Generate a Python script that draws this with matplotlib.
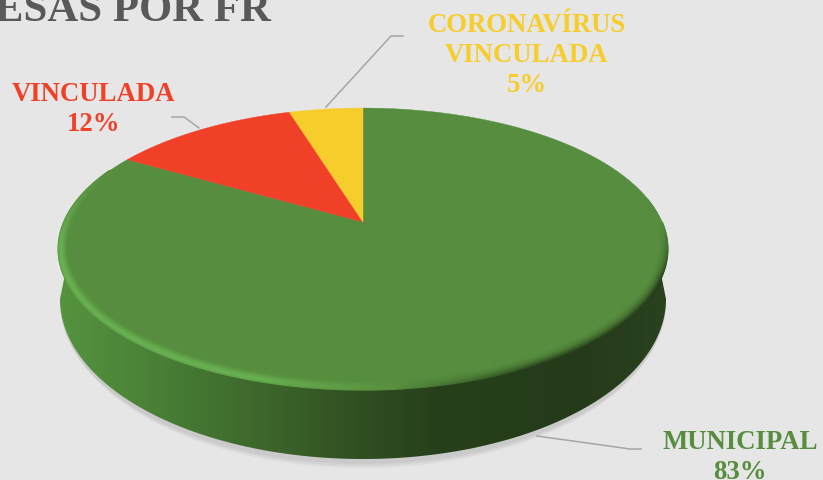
import numpy as np
import matplotlib
matplotlib.use('Agg')
import matplotlib.pyplot as plt
from matplotlib.collections import LineCollection
from matplotlib.colors import LinearSegmentedColormap, to_rgb
from matplotlib.patches import Polygon

plt.rcParams['font.family'] = ['Liberation Serif', 'DejaVu Serif']

# chart data
categories = ['MUNICIPAL', 'VINCULADA', 'CORONAVÍRUS\nVINCULADA']
values = [83.4, 11.9, 4.7]
colors = ['#568d3e', '#f04128', '#f6cd2b']
title = 'ESAS POR FR'

BG = '#e6e6e6'
CX, CY = 363.0, 223.0      # apex of the pie
A, B, P = 299.0, 135.7, -0.191   # perspective of the disc


def project(theta, r=1.0):
    # theta is clockwise from 12 o'clock, disc is tilted towards the viewer
    u = r * np.sin(theta)
    v = -r * np.cos(theta)
    d = 1 + P * v
    return CX + A * u / d, CY + B * v / d


def ell(t, cx, cy, a, b):
    return cx + a * np.cos(t), cy + b * np.sin(t)


fig = plt.figure(figsize=(8.23, 4.81), dpi=100, facecolor=BG)
ax = fig.add_axes([0, 0, 1, 1])
ax.set_xlim(0, 823)
ax.set_ylim(481, 0)
ax.axis('off')

# soft shadow under the disc, lower half only
t = np.linspace(0, np.pi, 300)
for grow, alpha in [(7, 0.25), (5, 0.4), (3, 0.6)]:
    sx, sy = ell(t, 363, 302, 303, 160 + grow)
    ax.fill(sx, sy, color='#c4c4c4', alpha=alpha, lw=0, zorder=1)

# side wall with horizontal shading
th = np.linspace(np.pi / 2 - 0.2, 3 * np.pi / 2 + 0.2, 300)
tx, ty = project(th)
t2 = np.linspace(np.pi, 0, 300)
bx, by = ell(t2, 363, 300, 303, 160)
side = Polygon(np.column_stack([np.r_[bx, tx], np.r_[by, ty]]),
               closed=True, fc='none', ec='none', zorder=2)
ax.add_patch(side)
side_cmap = LinearSegmentedColormap.from_list('side', [
    (0.0, '#549340'), (0.12, '#4c8538'), (0.30, '#3f6c2d'),
    (0.45, '#345524'), (0.62, '#27401b'), (0.85, '#253a19'), (1.0, '#2a4220')])
grad = np.linspace(0, 1, 400).reshape(1, -1)
img = ax.imshow(grad, extent=(59, 668, 481, 200), cmap=side_cmap, aspect='auto', zorder=2)
img.set_clip_path(side)
ax.set_xlim(0, 823)
ax.set_ylim(481, 0)

# top of the pie, clockwise from 12 o'clock
start = 0.0
for val, col in zip(values, colors):
    sweep = 2 * np.pi * val / sum(values)
    th = np.linspace(start, start + sweep, 200)
    x, y = project(th)
    ax.fill(np.r_[CX, x], np.r_[CY, y], color=col, lw=0.3, zorder=3)
    start += sweep

# bevel round the front edge: light on the left, dark on the right
th0, th1 = np.pi / 2, 2 * np.pi - 1.15
th = np.linspace(th0, th1, 500)
base = np.array(to_rgb(colors[0]))
light = np.array(to_rgb('#69b152'))
dark = np.array(to_rgb('#27401b'))
n_layers = 14
for i in range(n_layers):
    x, y = project(th, 1.0 - 0.0024 * i)
    y = y - i * 0.3 * np.clip(-np.cos(th), 0, 1)
    pts = np.column_stack([x, y])
    segs = np.stack([pts[:-1], pts[1:]], axis=1)
    xm = (x[:-1] - CX) / A
    fall = 1 - i / n_layers
    w_light = np.clip((0.15 - xm) / 0.5, 0, 1) * np.sin(np.pi * ((i + 1) / (n_layers + 1)) ** 0.6) ** 1.5
    w_dark = np.clip((xm - 0.1) / 0.5, 0, 1) * fall ** 2
    fade = np.clip((th[:-1] - th0) / 0.4, 0, 1) * np.clip((th1 - th[:-1]) / 0.6, 0, 1)
    w_light = (w_light * fade)[:, None]
    w_dark = (w_dark * fade)[:, None]
    cols = base * (1 - w_light - w_dark) + light * w_light + dark * w_dark
    ax.add_collection(LineCollection(segs, colors=np.clip(cols, 0, 1), linewidths=1.2, zorder=4,
                                     capstyle='round'))

# leader lines
leaders = [
    ([537, 630, 641], [437, 450, 450]),
    ([172, 184, 199], [118, 118, 129]),
    ([403, 391, 326], [37, 37, 108]),
]
for lx, ly in leaders:
    ax.plot(lx, ly, color='#a6a6a6', lw=1.1, zorder=5)

# labels
label_pos = [(740, 449), (94, 101), (527, 32)]
for cat, val, col, (lx, ly) in zip(categories, values, colors, label_pos):
    lines = cat.split('\n') + [f'{val:.0f}%']
    for k, line in enumerate(lines):
        ax.text(lx, ly + k * 30, line, color=col, fontsize=19.3, fontweight='bold',
                ha='center', va='baseline', zorder=6)

ax.text(-5, 21, title, color='#595959', fontsize=30.8, fontweight='bold',
        ha='left', va='baseline', zorder=6)

fig.savefig('out.png', dpi=100, facecolor=BG)
